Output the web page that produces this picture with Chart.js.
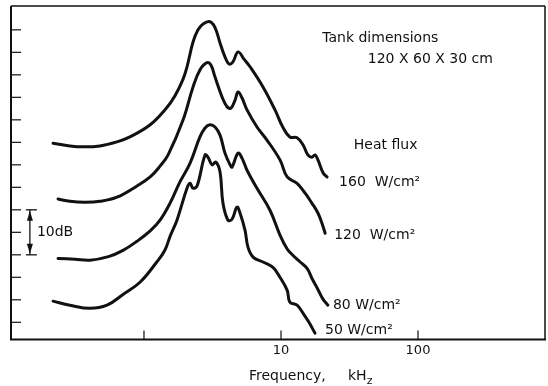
<!DOCTYPE html>
<html>
<head>
<meta charset="utf-8">
<script src="https://cdn.jsdelivr.net/npm/chart.js@4.4.1/dist/chart.umd.min.js"></script>
<style>
	html, body { margin: 0; padding: 0; background: #fff; }
	#wrap { width: 548px; height: 386px; }
</style>
</head>
<body>
<div id="wrap"><canvas id="chart"></canvas></div>
<script>
	// Frequency (kHz) and relative level (dB)
	const freq160 = [0.217, 0.288, 0.359, 0.477, 0.635, 0.79, 1.11, 1.42, 1.68, 1.99, 2.28, 2.48, 2.70, 3.03, 3.30, 3.59, 3.90, 4.17, 4.46, 4.86, 5.37, 5.94, 7.39, 9.04, 10.3, 11.6, 13.1, 14.5, 15.7, 16.8, 17.7, 18.6, 20.3, 21.7];
	const level160 = [44.8, 44.2, 44.0, 44.2, 45.1, 46.2, 48.9, 52.2, 55.3, 60.2, 67.3, 70.0, 71.3, 71.8, 70.5, 67.1, 64.0, 62.4, 62.9, 65.1, 63.5, 61.8, 57.3, 52.2, 48.4, 46.2, 46.0, 44.4, 42.2, 41.7, 42.2, 41.1, 38.2, 37.3];

	const freq120 = [0.236, 0.288, 0.371, 0.477, 0.635, 0.889, 1.11, 1.31, 1.50, 1.93, 2.28, 2.56, 2.88, 3.08, 3.30, 3.71, 4.04, 4.32, 4.62, 4.86, 5.19, 5.65, 6.68, 7.90, 9.83, 11.1, 13.1, 15.0, 16.8, 18.6, 19.9, 21.0];
	const level120 = [32.4, 31.9, 31.7, 31.9, 32.8, 35.3, 37.3, 39.7, 42.2, 50.0, 57.3, 61.1, 62.7, 62.2, 59.5, 55.1, 52.9, 52.6, 54.4, 56.2, 54.9, 52.2, 48.4, 45.5, 41.1, 37.3, 35.9, 33.7, 31.5, 29.3, 27.0, 24.8];

	const freq80 = [0.236, 0.314, 0.404, 0.55, 0.703, 0.889, 1.11, 1.31, 1.55, 1.83, 2.17, 2.56, 2.79, 3.03, 3.30, 3.59, 3.90, 4.25, 4.39, 4.86, 5.19, 5.65, 6.68, 8.31, 9.83, 11.1, 12.2, 13.8, 15.5, 16.8, 18.6, 20.3, 22.0];
	const level80 = [19.2, 19.0, 18.8, 19.6, 21.0, 23.0, 25.3, 27.7, 31.5, 36.2, 40.4, 46.2, 48.2, 48.9, 48.4, 46.6, 42.6, 40.0, 39.5, 42.6, 41.5, 38.8, 34.8, 29.9, 24.4, 21.3, 19.9, 18.4, 17.0, 14.8, 12.3, 10.1, 8.8];

	const freq50 = [0.217, 0.288, 0.404, 0.537, 0.703, 0.935, 1.24, 1.42, 1.55, 1.74, 2.06, 2.17, 2.28, 2.44, 2.79, 2.93, 3.14, 3.35, 3.59, 3.77, 4.10, 4.39, 4.77, 5.02, 5.46, 5.74, 6.25, 7.39, 8.74, 9.83, 11.1, 11.6, 13.1, 14.5, 16.0, 17.7];
	const level50 = [9.7, 8.8, 8.1, 8.8, 11.2, 13.9, 18.4, 21.0, 24.1, 27.7, 34.8, 35.9, 34.8, 35.3, 42.2, 41.7, 40.0, 40.6, 38.4, 31.5, 27.7, 27.9, 30.6, 29.3, 25.5, 21.7, 19.5, 18.4, 17.2, 15.0, 12.1, 9.5, 8.8, 7.0, 5.0, 2.6];

	const seriesNames = ['160  W/cm²', '120  W/cm²', '80 W/cm²', '50 W/cm²'];

	// Axis ticks
	const xTicks = [1, 10, 100];
	const xTickLabels = ['', '10', '100'];
	const yTicks = [5, 10, 15, 20, 25, 30, 35, 40, 45, 50, 55, 60, 65, 70];

	// 10 dB scale bar (from, to)
	const scaleBar = [20, 30];

	const ink = '#111';
	const fontFamily = '"DejaVu Sans", sans-serif';

	// Helper: pair up x and y arrays
	function toPoints(xs, ys) {
		return xs.map((x, i) => ({ x: x, y: ys[i] }));
	}

	const datasets = [
		{ label: seriesNames[0], data: toPoints(freq160, level160), labelOffset: [12, 5] },
		{ label: seriesNames[1], data: toPoints(freq120, level120), labelOffset: [9, 2] },
		{ label: seriesNames[2], data: toPoints(freq80, level80), labelOffset: [5, 0] },
		{ label: seriesNames[3], data: toPoints(freq50, level50), labelOffset: [10, -3] },
	].map(d => Object.assign(d, {
		borderColor: ink,
		borderWidth: 3,
		pointRadius: 0,
		fill: false,
		tension: 0.4,
		borderCapStyle: 'round',
		borderJoinStyle: 'round',
	}));

	// Free text placed in data coordinates (kHz, dB)
	const notes = [
		{ text: 'Tank dimensions', x: 20, y: 68.2 },
		{ text: '120 X 60 X 30 cm', x: 43, y: 63.5 },
		{ text: 'Heat flux', x: 34, y: 44.4 },
	];

	function line(ctx, x1, y1, x2, y2) {
		ctx.beginPath();
		ctx.moveTo(x1, y1);
		ctx.lineTo(x2, y2);
		ctx.stroke();
	}

	// Frame, inward ticks, labels and the 10 dB bar
	const decorations = {
		id: 'decorations',
		afterDraw(chart) {
			const ctx = chart.ctx;
			const a = chart.chartArea;
			const x = chart.scales.x;
			const y = chart.scales.y;
			ctx.save();
			ctx.strokeStyle = ink;
			ctx.fillStyle = ink;

			// frame
			ctx.lineWidth = 2;
			line(ctx, a.left, a.top, a.left, a.bottom);
			line(ctx, a.left - 1, a.bottom, a.right + 1, a.bottom);
			ctx.lineWidth = 1.5;
			line(ctx, a.left, a.top, a.right, a.top);
			line(ctx, a.right, a.top, a.right, a.bottom);

			// inward tick marks
			ctx.lineWidth = 1.2;
			yTicks.forEach(v => {
				const py = y.getPixelForValue(v);
				line(ctx, a.left, py, a.left + 10, py);
			});
			xTicks.forEach(v => {
				const px = x.getPixelForValue(v);
				line(ctx, px, a.bottom, px, a.bottom - 9);
			});

			ctx.font = '14px ' + fontFamily;
			ctx.textBaseline = 'middle';
			ctx.textAlign = 'left';

			// curve labels at the end of each curve
			chart.data.datasets.forEach(ds => {
				const last = ds.data[ds.data.length - 1];
				const px = x.getPixelForValue(last.x) + ds.labelOffset[0];
				const py = y.getPixelForValue(last.y) + ds.labelOffset[1];
				ctx.fillText(ds.label, px, py);
			});

			notes.forEach(n => {
				ctx.fillText(n.text, x.getPixelForValue(n.x), y.getPixelForValue(n.y));
			});

			// 10 dB bar
			const bx = x.getPixelForValue(0.147);
			const top = y.getPixelForValue(scaleBar[1]);
			const bottom = y.getPixelForValue(scaleBar[0]);
			ctx.lineWidth = 1.3;
			line(ctx, bx, top, bx, bottom);
			line(ctx, bx - 4, top, bx + 7, top);
			line(ctx, bx - 4, bottom, bx + 7, bottom);
			ctx.beginPath();
			ctx.moveTo(bx, top + 1);
			ctx.lineTo(bx - 3, top + 11);
			ctx.lineTo(bx + 3, top + 11);
			ctx.closePath();
			ctx.fill();
			ctx.beginPath();
			ctx.moveTo(bx, bottom - 1);
			ctx.lineTo(bx - 3, bottom - 11);
			ctx.lineTo(bx + 3, bottom - 11);
			ctx.closePath();
			ctx.fill();
			ctx.fillText('10dB', bx + 7, (top + bottom) / 2);

			// axis title with subscript z
			const p10 = x.getPixelForValue(10);
			const ty = chart.height - 10;
			ctx.fillText('Frequency,', p10 - 32, ty);
			ctx.fillText('kH', p10 + 67, ty);
			const kw = ctx.measureText('kH').width;
			ctx.font = '11px ' + fontFamily;
			ctx.fillText('z', p10 + 67 + kw, ty + 5);

			ctx.restore();
		}
	};

	const chart = new Chart(document.getElementById('chart'), {
		type: 'line',
		data: { datasets: datasets },
		options: {
			responsive: true,
			maintainAspectRatio: false,
			animation: false,
			layout: {
				padding: { left: 11, right: 3, top: 6, bottom: 25 }
			},
			plugins: {
				legend: { display: false },
				tooltip: { enabled: false },
				title: { display: false }
			},
			scales: {
				x: {
					type: 'logarithmic',
					min: 0.107,
					max: 845,
					grid: { display: false, drawTicks: false },
					border: { display: false },
					afterBuildTicks: scale => {
						scale.ticks = xTicks.map(v => ({ value: v }));
					},
					ticks: {
						autoSkip: false,
						maxRotation: 0,
						padding: 3,
						color: ink,
						font: { family: fontFamily, size: 13 },
						callback: (value, index) => xTickLabels[index]
					}
				},
				y: {
					type: 'linear',
					min: 1.2,
					max: 75.3,
					display: false
				}
			}
		},
		plugins: [decorations]
	});
</script>
</body>
</html>
